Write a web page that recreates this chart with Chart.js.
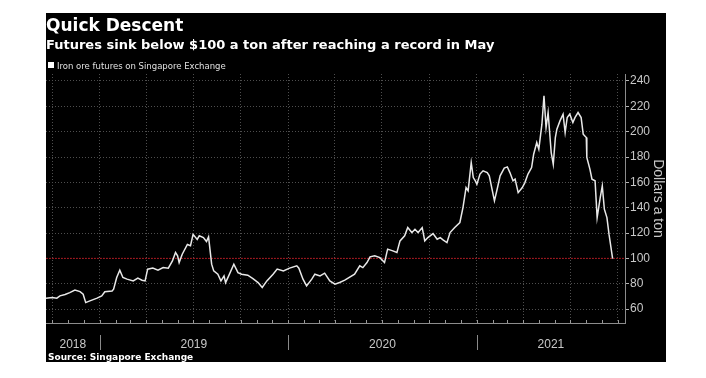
<!DOCTYPE html>
<html><head><meta charset="utf-8">
<script src="https://cdn.jsdelivr.net/npm/chart.js@4"></script>
<style>
html,body{margin:0;padding:0;background:#fff;width:706px;height:378px;overflow:hidden}
#panel{position:absolute;left:46px;top:13px;width:620px;height:349px;background:#000}
#c{position:absolute;left:0;top:0}
.t{position:absolute;white-space:nowrap;color:#fff;font-family:"DejaVu Sans",sans-serif}
#legbox{position:absolute;left:48px;top:62px;width:6px;height:6px;background:#fff}
</style></head><body>
<div id="panel"><canvas id="c" width="620" height="349"></canvas></div>
<div class="t" style="left:46px;top:15px;font-size:17px;line-height:20px;font-weight:bold">Quick Descent</div>
<div class="t" style="left:46px;top:37px;font-size:13px;line-height:16px;font-weight:bold">Futures sink below $100 a ton after reaching a record in May</div>
<div id="legbox"></div>
<div class="t" style="left:57px;top:61px;font-size:8.5px;line-height:10px;color:#e0e0e0">Iron ore futures on Singapore Exchange</div>
<div class="t" style="left:48px;top:352px;font-size:9px;line-height:11px;font-weight:bold">Source: Singapore Exchange</div>
<script>
// ---- data ----
const dates = [
'2018-09-19','2018-10-01','2018-10-10','2018-10-16','2018-10-26','2018-11-04','2018-11-14','2018-11-24','2018-11-30','2018-12-05','2018-12-13','2018-12-27',
'2019-01-05','2019-01-11','2019-01-25','2019-01-28','2019-02-03','2019-02-09','2019-02-15','2019-02-23','2019-03-07','2019-03-16','2019-03-24','2019-03-30','2019-04-04','2019-04-14','2019-04-24','2019-05-04','2019-05-14','2019-05-22','2019-05-28','2019-06-01','2019-06-04','2019-06-10','2019-06-20','2019-06-26','2019-07-01','2019-07-09','2019-07-13','2019-07-21','2019-07-27','2019-07-31','2019-08-06','2019-08-10','2019-08-18','2019-08-24','2019-08-30','2019-09-02','2019-09-08','2019-09-18','2019-09-26','2019-10-03','2019-10-15','2019-10-25','2019-11-04','2019-11-12','2019-11-21','2019-12-03','2019-12-11','2019-12-23',
'2020-01-04','2020-01-18','2020-01-22','2020-01-30','2020-02-06','2020-02-16','2020-02-22','2020-03-03','2020-03-12','2020-03-22','2020-04-01','2020-04-10','2020-04-20','2020-05-09','2020-05-19','2020-05-25','2020-06-02','2020-06-08','2020-06-17','2020-06-27','2020-07-06','2020-07-12','2020-07-22','2020-07-30','2020-08-05','2020-08-14','2020-08-20','2020-08-28','2020-09-03','2020-09-09','2020-09-17','2020-09-22','2020-09-28','2020-10-08','2020-10-16','2020-10-22','2020-10-28','2020-11-04','2020-11-10','2020-11-19','2020-11-29','2020-12-05','2020-12-11','2020-12-15','2020-12-21','2020-12-25','2020-12-29',
'2021-01-01','2021-01-07','2021-01-13','2021-01-21','2021-01-25','2021-01-31','2021-02-04','2021-02-10','2021-02-15','2021-02-23','2021-03-01','2021-03-06','2021-03-12','2021-03-16','2021-03-22','2021-03-30','2021-04-04','2021-04-10','2021-04-17','2021-04-21','2021-04-27','2021-05-01','2021-05-07','2021-05-11','2021-05-15','2021-05-19','2021-05-25','2021-05-29','2021-06-02','2021-06-05','2021-06-11','2021-06-17','2021-06-21','2021-06-25','2021-06-30','2021-07-06','2021-07-10','2021-07-16','2021-07-22','2021-07-26','2021-08-01','2021-08-02','2021-08-08','2021-08-12','2021-08-18','2021-08-22','2021-08-28','2021-09-01','2021-09-05','2021-09-10','2021-09-14','2021-09-21'
];
const prices = [
68.6,69.2,68.6,70.4,71.5,73,75,73.8,71.7,65.1,66.5,68.6,
70.4,73.6,74.3,75.7,84.9,90.7,84.9,83.6,82.2,84.4,82.8,82.2,91.5,92.3,90.7,92.7,92.3,98,104.6,102,96.7,103.3,111,110,119,115,117.8,116.4,113.3,117,95.4,90.1,87.5,82.2,86.2,80.9,86.2,95.4,88.8,87.5,86.7,84,80.9,77,82.2,87.5,91.5,90.1,
92.3,94.1,92.3,83.6,78.3,83.6,87.5,86.2,88.3,82.2,79.6,81,82.8,87.5,94.1,92.7,96.7,101.2,102,100.6,96.7,107.3,105.9,104.6,113.8,117.8,124.3,120.4,123,120.4,124.3,113.8,116.4,119.6,115.1,116.4,114.4,112.5,120.4,124.3,128.3,140.1,155.9,153.3,175.6,163.8,161.2,
158.6,166.5,169.1,167.7,165.1,153.3,145.4,155.9,165.1,171.2,172.2,167.7,161.2,162.5,151.9,155.9,159.8,166.5,171.7,182.2,191.4,186.2,205.9,228.3,203.2,215.1,183.5,174.3,195.3,202,208.5,213.8,199.3,211.1,213.8,207.2,211.1,215.1,211.1,198,195.3,179.6,170.4,162.5,161.2,132.2,148,157.2,138.8,132.2,119.1,99.8
];
const seriesName = 'Iron ore futures on Singapore Exchange';
const refLevel = 100;
const rangeStart = '2018-09-19';
const rangeEnd = '2021-10-15';
const quarterStarts = ['2018-10-01','2019-01-01','2019-04-01','2019-07-01','2019-10-01','2020-01-01','2020-04-01','2020-07-01','2020-10-01','2021-01-01','2021-04-01','2021-07-01','2021-10-01'];
const yearLabels = ['2018','2019','2020','2021'];
const yTickValues = [60,70,80,90,100,110,120,130,140,150,160,170,180,190,200,210,220,230,240];
const yMin = 49, yMax = 245.5;
const yTitle = 'Dollars a ton';

// ---- helpers ----
const toMs = s => Date.parse(s + 'T00:00:00Z');
const xMin = toMs(rangeStart), xMax = toMs(rangeEnd);
const quarterMs = quarterStarts.map(toMs);
const quarterSet = new Set(quarterMs);
const yearCenter = new Map();
yearLabels.forEach(y => {
  const s = Math.max(xMin, toMs(y + '-01-01'));
  const e = Math.min(xMax, toMs((+y + 1) + '-01-01'));
  yearCenter.set((s + e) / 2, y);
});
const monthStarts = [];
{
  const d0 = new Date(xMin);
  let y = d0.getUTCFullYear(), m = d0.getUTCMonth() + 1;
  while (true) {
    const t = Date.UTC(y, m, 1);
    if (t > xMax) break;
    monthStarts.push({t, jan: m % 12 === 0});
    m++;
  }
}

const axisMarks = {
  id: 'axisMarks',
  afterDraw(chart) {
    const {ctx, chartArea} = chart;
    const xs = chart.scales.x;
    ctx.save();
    ctx.lineWidth = 1;
    monthStarts.forEach(ms => {
      const px = Math.round(xs.getPixelForValue(ms.t)) + 0.5;
      ctx.strokeStyle = '#9a9a9a';
      ctx.beginPath();
      ctx.moveTo(px, chartArea.bottom);
      ctx.lineTo(px, chartArea.bottom - 3);
      ctx.stroke();
      if (ms.jan) {
        ctx.strokeStyle = '#8a8a8a';
        ctx.beginPath();
        ctx.moveTo(px, chartArea.bottom + 12);
        ctx.lineTo(px, chartArea.bottom + 27);
        ctx.stroke();
      }
    });
    ctx.restore();
  }
};

new Chart(document.getElementById('c'), {
  type: 'line',
  data: {
    datasets: [
      { label: seriesName, data: dates.map((d, i) => ({x: toMs(d), y: prices[i]})),
        borderColor: '#e8e8e8', borderWidth: 1.5, pointRadius: 0, tension: 0 },
      { label: 'ref', data: [{x: xMin, y: refLevel}, {x: xMax, y: refLevel}],
        borderColor: '#a3141c', borderWidth: 1, borderDash: [2, 1], pointRadius: 0 }
    ]
  },
  options: {
    responsive: false, animation: false, devicePixelRatio: 1,
    layout: {padding: {top: 61, left: 0, right: 0, bottom: 0}},
    plugins: {legend: {display: false}, tooltip: {enabled: false}},
    scales: {
      x: {
        type: 'linear', min: xMin, max: xMax,
        afterBuildTicks: s => {
          s.ticks = quarterMs.map(v => ({value: v})).concat([...yearCenter.keys()].map(v => ({value: v})))
            .sort((a, b) => a.value - b.value);
        },
        afterFit: s => { s.height = 39; },
        grid: {
          color: c => (c.tick && quarterSet.has(c.tick.value)) ? '#4e4e4e' : 'rgba(0,0,0,0)',
          drawTicks: true, tickLength: 14, tickColor: 'rgba(0,0,0,0)', lineWidth: 1
        },
        border: {color: '#8c8c8c', width: 1, dash: [1, 2]},
        ticks: {
          autoSkip: false, maxRotation: 0, padding: 0, color: '#c8c8c8',
          font: {family: 'Liberation Sans', size: 12},
          callback: v => yearCenter.get(v) || ''
        }
      },
      y: {
        position: 'right', min: yMin, max: yMax,
        afterBuildTicks: s => { s.ticks = yTickValues.map(v => ({value: v})); },
        afterFit: s => { s.width = 41; },
        grid: {
          color: c => (c.tick && c.tick.value % 20 === 0) ? '#4e4e4e' : 'rgba(0,0,0,0)',
          tickColor: c => (c.tick && c.tick.value % 20 === 0) ? '#b4b4b4' : '#6a6a6a',
          tickLength: 4, lineWidth: 1
        },
        border: {color: '#8c8c8c', width: 1, dash: [1, 2]},
        ticks: {
          padding: 1, color: '#c8c8c8', font: {family: 'Liberation Sans', size: 12},
          callback: v => (v % 20 === 0 ? String(v) : '')
        },
        title: {display: true, text: yTitle, color: '#c8c8c8',
          font: {family: 'Liberation Sans', size: 14}, padding: 0}
      }
    }
  },
  plugins: [axisMarks]
});
</script>
</body></html>
